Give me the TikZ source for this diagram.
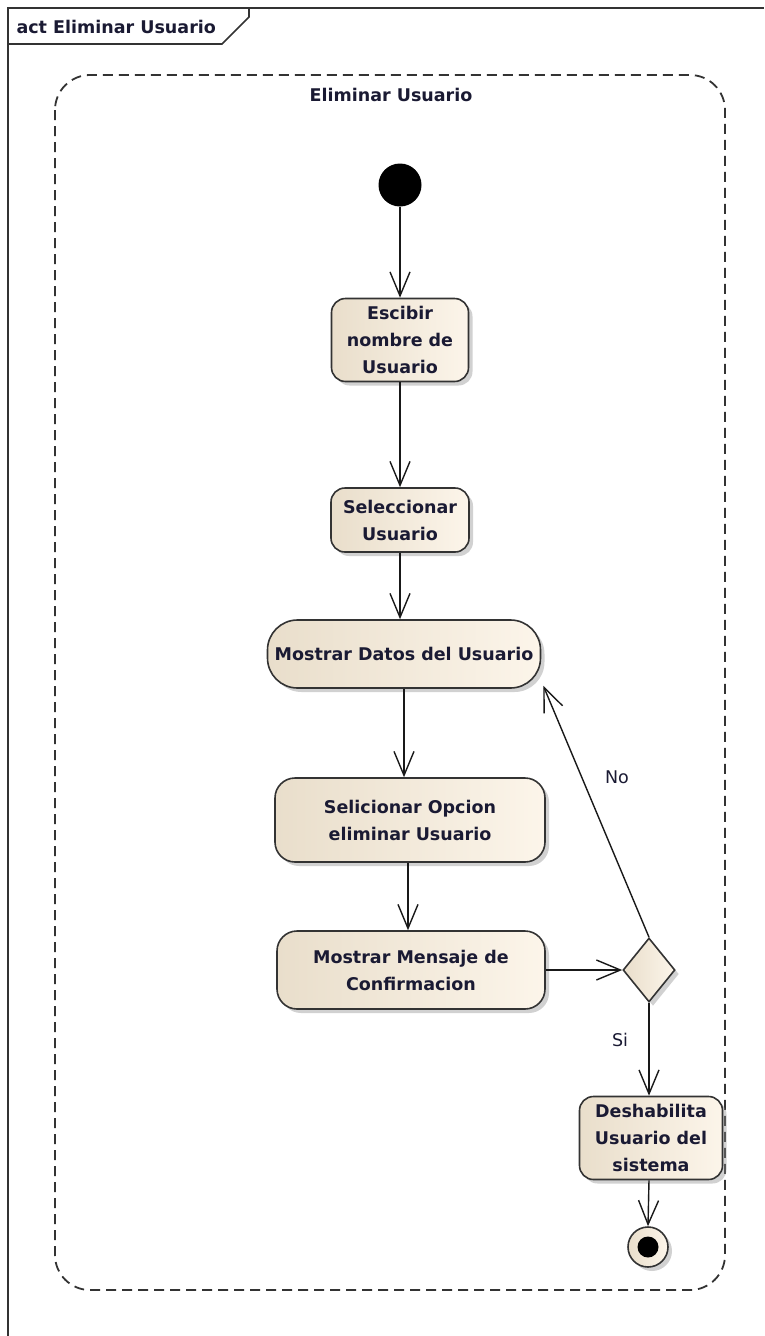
\documentclass[tikz,border=0pt]{standalone}
\usepackage{fontspec}
\setmainfont{DejaVu Sans}
\usetikzlibrary{arrows.meta,shapes.geometric,shadows}
\definecolor{framegray}{HTML}{333333}
\definecolor{nodeleft}{HTML}{E9DECB}
\definecolor{noderight}{HTML}{FCF5EA}
\definecolor{inkblue}{HTML}{1A1A33}
\begin{document}
\begin{tikzpicture}[x=1pt,y=-1pt,
  txt/.style={text=inkblue,font=\fontsize{17.5}{27}\selectfont},
  boldtxt/.style={text=inkblue,font=\fontsize{17.5}{27}\selectfont\bfseries},
  shade/.style={left color=nodeleft,right color=noderight,
    drop shadow={shadow xshift=4pt,shadow yshift=-4pt,fill=black!45,opacity=.4}},
  action/.style={shade,boldtxt,draw=framegray,line width=1.6pt,rounded corners=14pt,
    align=center,inner sep=0pt},
  decision/.style={shade,draw=framegray,line width=1.6pt,diamond,inner sep=0pt,
    minimum width=52pt,minimum height=64pt},
  initnode/.style={circle,fill=black,minimum size=43pt,inner sep=0pt},
  finalnode/.style={shade,circle,draw=framegray,line width=1.6pt,minimum size=40pt,inner sep=0pt},
  flow/.style={draw=black!90,line width=1.4pt,-{Straight Barb[length=24pt,width=20pt]}},
  frameline/.style={draw=framegray,line width=1.6pt},
]
\useasboundingbox (0,0) rectangle (764,1336);

% diagram frame and its name tab
\draw[frameline] (8,1336) -- (8,8) -- (764,8);
\draw[frameline] (8,44) -- (222,44) -- (249,17) -- (249,8);
\node[boldtxt,anchor=west] (frametitle) at (13,27) {act Eliminar Usuario};

% activity group
\draw[frameline,line width=1.8pt,dash pattern=on 10pt off 6pt,rounded corners=35pt] (55,75) rectangle (725,1290);
\node[boldtxt] (grouptitle) at (391,95) {Eliminar Usuario};

% nodes
\node[initnode] (init) at (400,185) {};
\node[action,minimum width=137pt,minimum height=83pt] (a1) at (400,340) {Escibir\\nombre de\\Usuario};
\node[action,minimum width=138pt,minimum height=64pt] (a2) at (400,520) {Seleccionar\\Usuario};
\node[action,minimum width=273pt,minimum height=68pt,rounded corners=30pt] (a3) at (404,654) {Mostrar Datos del Usuario};
\node[action,minimum width=270pt,minimum height=84pt,rounded corners=20pt] (a4) at (410,820) {Selicionar Opcion\\eliminar Usuario};
\node[action,minimum width=268pt,minimum height=78pt,rounded corners=20pt] (a5) at (411,970) {Mostrar Mensaje de\\Confirmacion};
\node[decision] (dec) at (649,970) {};
\node[action,minimum width=143pt,minimum height=83pt] (a6) at (651,1138) {Deshabilita\\Usuario del\\sistema};
\node[finalnode] (fin) at (648,1247) {};
\fill[black] (fin.center) circle (10.5pt);

% flows
\draw[flow] (init) -- (a1);
\draw[flow] (a1) -- (a2);
\draw[flow] (a2) -- (a3.north -| a2.south);
\draw[flow] (a3.south) -- (a3.south |- a4.north);
\draw[flow] ([xshift=-2pt]a4.south) -- ([xshift=-2pt]a4.south |- a5.north);
\draw[flow] (a5.east) -- (dec.west);
\draw[flow] (dec.north) -- ([shift={(2,-3)}]a3.south east);
\draw[flow] (dec.south) -- (dec.south |- a6.north);
\draw[flow] (a6.south -| dec.south) -- (fin.north);

% guard labels
\node[txt] (no) at (617,777) {No};
\node[txt] (si) at (620,1040) {Si};
\end{tikzpicture}
\end{document}
